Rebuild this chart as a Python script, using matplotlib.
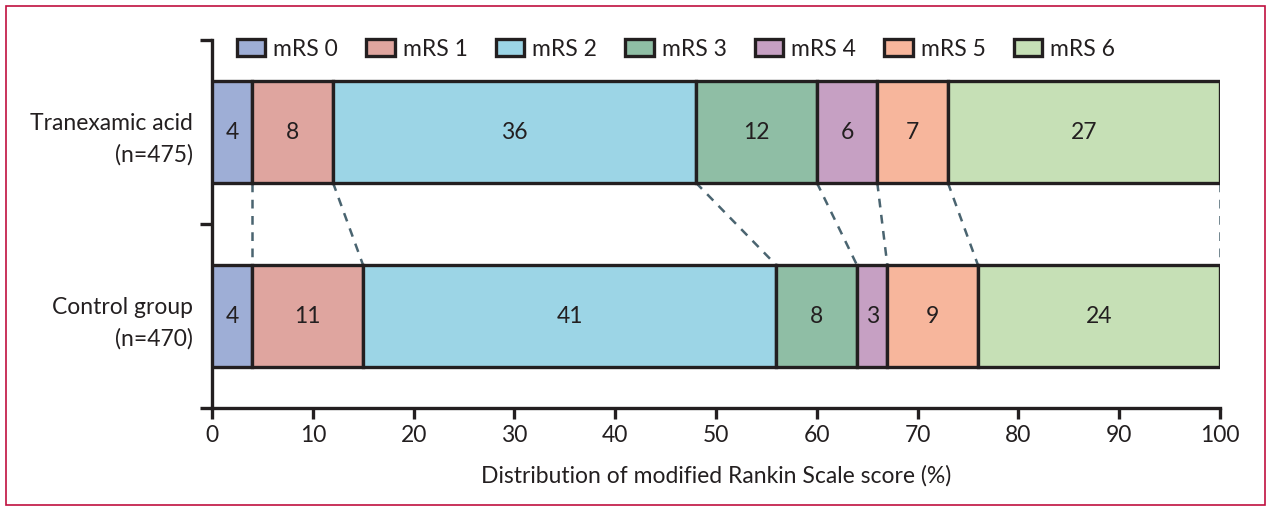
import matplotlib
matplotlib.use("Agg")
import matplotlib.pyplot as plt
from matplotlib.patches import Rectangle
import numpy as np

plt.rcParams['font.family'] = ['Lato', 'DejaVu Sans']

groups = ["Tranexamic acid\n(n=475)", "Control group\n(n=470)"]
categories = ["mRS 0", "mRS 1", "mRS 2", "mRS 3", "mRS 4", "mRS 5", "mRS 6"]
tranexamic = [4, 8, 36, 12, 6, 7, 27]
control = [4, 11, 41, 8, 3, 9, 24]
colors = ["#9eaed6", "#dfa59f", "#9cd5e6", "#8fbea5", "#c6a0c3", "#f7b69c", "#c6e0b6"]
xticks = [0, 10, 20, 30, 40, 50, 60, 70, 80, 90, 100]
xlabel = "Distribution of modified Rankin Scale score (%)"

ink = "#231f20"
fs = 16.5

fig = plt.figure(figsize=(12.72, 5.11), dpi=100)
ax = fig.add_axes([212/1272, 103/511, (1220-212)/1272, (408-40)/511])

ypos = [1, 0]
height = 0.55
data = [tranexamic, control]
handles = []
for yi, vals in zip(ypos, data):
    left = 0
    for i, v in enumerate(vals):
        b = ax.barh(yi, v, left=left, height=height, color=colors[i],
                    edgecolor=ink, linewidth=2.4, zorder=3)
        ax.text(left + v / 2, yi, str(v), ha='center', va='center',
                fontsize=fs, color=ink, zorder=4)
        if yi == 1:
            handles.append(b)
        left += v

# dashed connectors
cum_t = np.cumsum(tranexamic)
cum_c = np.cumsum(control)
for a, c in zip(cum_t, cum_c):
    ax.plot([a, c], [1 - height / 2, 0 + height / 2], ls=(0, (3.5, 3)),
            color="#4a6470", lw=1.8, zorder=2)

ax.set_xlim(0, 100)
ax.set_ylim(-0.5, 1.5)
ax.set_xticks(xticks)
ax.set_xticklabels([str(t) for t in xticks], fontsize=fs, color=ink)
ax.set_yticks([-0.5, 0.5, 1.5])
ax.set_yticklabels([])
ax.set_yticks(ypos, minor=True)
ax.set_yticklabels(groups, minor=True, fontsize=fs, color=ink, linespacing=1.6)
ax.tick_params(axis='y', which='minor', length=0, pad=14)
ax.tick_params(axis='y', which='major', length=9, width=2.4, color=ink)
ax.tick_params(axis='x', length=8, width=2.4, color=ink, pad=4)
for s in ['top', 'right']:
    ax.spines[s].set_visible(False)
for s in ['left', 'bottom']:
    ax.spines[s].set_linewidth(2.4)
    ax.spines[s].set_color(ink)
ax.set_xlabel(xlabel, fontsize=fs, color=ink, labelpad=14)

leg = ax.legend(handles, categories, loc='center', ncol=7, frameon=False,
                fontsize=fs, handlelength=1.25, handleheight=0.75,
                handletextpad=0.35, columnspacing=1.22)
leg.set_bbox_to_anchor((676/1272, 1 - 49/511), transform=fig.transFigure)
for t in leg.get_texts():
    t.set_color(ink)

fig.patches.append(Rectangle((6/1272, 6/511), 1259/1272, 499/511, transform=fig.transFigure,
                             fill=False, edgecolor="#c0103f", linewidth=1.2))

fig.savefig("out.png", dpi=100)
